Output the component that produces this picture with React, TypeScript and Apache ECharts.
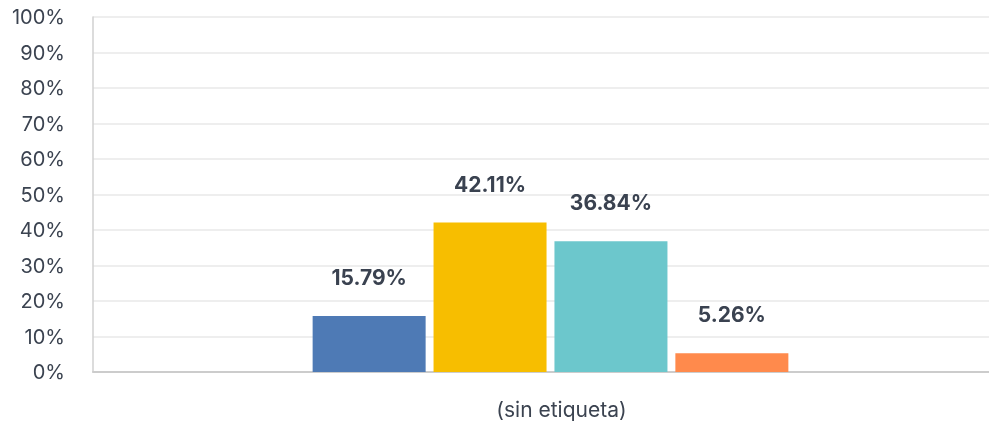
import React, { useEffect, useRef } from "react";
import * as echarts from "echarts";

const categories = ["(sin etiqueta)"];
const seriesNames = ["A", "B", "C", "D"];
const seriesValues = [15.79, 42.11, 36.84, 5.26];
const seriesColors = ["#4e7ab5", "#f7be00", "#6cc7cc", "#ff8a4c"];

export default function App() {
  const ref = useRef<HTMLDivElement>(null);
  useEffect(() => {
    document.documentElement.style.overflow = "hidden";
    document.body.style.overflow = "hidden";
    if (!ref.current) return;
    const chart = echarts.init(ref.current, null, { renderer: "svg" });
    const font = "Inter, 'Noto Sans', sans-serif";
    chart.setOption({
      animation: false,
      textStyle: { fontFamily: font },
      grid: { left: 93, right: 0, top: 17, bottom: 50, containLabel: false },
      xAxis: {
        type: "category",
        data: categories,
        axisLine: { show: true, lineStyle: { color: "#cccccc", width: 2 } },
        axisTick: { show: false },
        axisLabel: {
          color: "#3b4350",
          fontSize: 21,
          fontFamily: font,
          margin: 27,
          padding: [0, 0, 0, 22],
        },
      },
      yAxis: {
        type: "value",
        min: 0,
        max: 100,
        interval: 10,
        axisLine: { show: true, lineStyle: { color: "#d0d0d0", width: 1.5 } },
        axisTick: { show: false },
        splitLine: { show: true, lineStyle: { color: "#e8e8e8", width: 1.5 } },
        axisLabel: {
          formatter: "{value}%",
          color: "#3b4350",
          fontSize: 20,
          fontFamily: font,
          margin: 28,
          padding: [5, 0, 0, 0],
        },
      },
      series: seriesValues.map((v, i) => ({
        name: seriesNames[i],
        type: "bar",
        data: [v],
        barWidth: 113,
        barGap: "7%",
        itemStyle: { color: seriesColors[i] },
        label: {
          show: true,
          position: "top",
          distance: 28,
          formatter: (p: any) => p.value.toFixed(2) + "%",
          color: "#3a4250",
          fontSize: 21,
          fontWeight: 700,
          fontFamily: font,
        },
      })),
    });
    return () => chart.dispose();
  }, []);
  return (
    <div
      ref={ref}
      style={{ position: "fixed", left: 0, top: 0, width: 1008, height: 422 }}
    />
  );
}
